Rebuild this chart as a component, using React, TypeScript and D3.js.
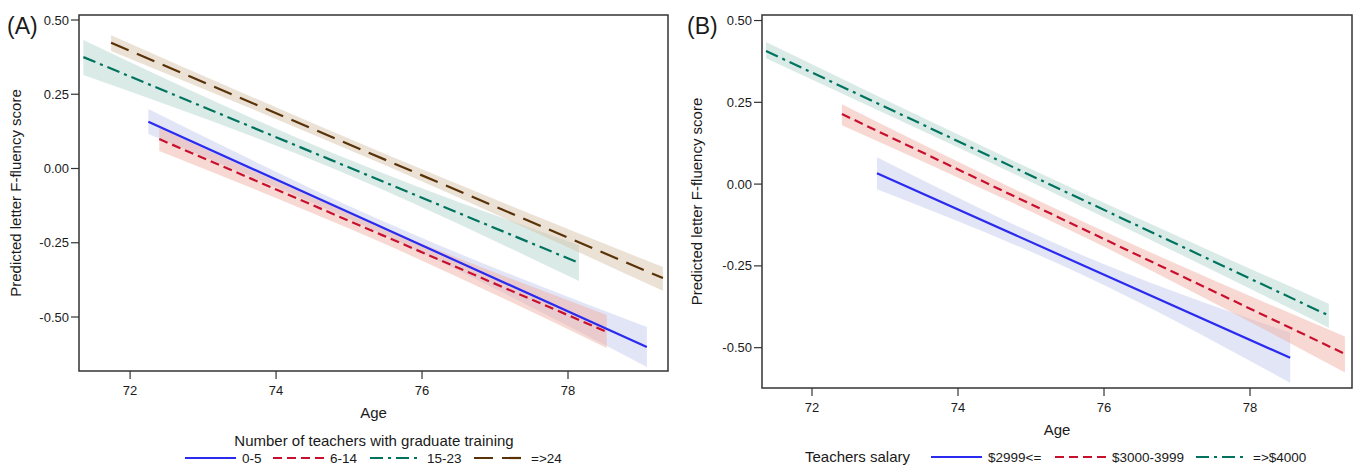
import React from "react";
import * as d3 from "d3";

// ---------- Data ----------
const xTicks = [72, 74, 76, 78];
const yTicks = [0.5, 0.25, 0, -0.25, -0.5];
const yTickLabels = ["0.50", "0.25", "0.00", "-0.25", "-0.50"];

// Panel A: Number of teachers with graduate training
const catsA = ["0-5", "6-14", "15-23", "=>24"];
const ageA_0_5 = [72.25, 75.36, 79.08];
const fitA_0_5 = [0.157, -0.188, -0.601];
const lowA_0_5 = [0.116, -0.21, -0.668];
const upA_0_5 = [0.2, -0.166, -0.534];

const ageA_6_14 = [72.4, 75.47, 78.53];
const fitA_6_14 = [0.099, -0.226, -0.55];
const lowA_6_14 = [0.059, -0.252, -0.604];
const upA_6_14 = [0.136, -0.2, -0.493];

const ageA_15_23 = [71.36, 74.75, 78.15];
const fitA_15_23 = [0.375, 0.029, -0.318];
const lowA_15_23 = [0.315, 0.003, -0.379];
const upA_15_23 = [0.433, 0.055, -0.258];

const ageA_24 = [71.74, 75.52, 79.3];
const fitA_24 = [0.423, 0.027, -0.369];
const lowA_24 = [0.396, 0.008, -0.412];
const upA_24 = [0.449, 0.046, -0.332];

// Panel B: Teachers salary
const catsB = ["$2999<=", "$3000-3999", "=>$4000"];
const ageB_low = [72.89, 75.71, 78.55];
const fitB_low = [0.033, -0.248, -0.531];
const lowB_low = [-0.016, -0.278, -0.607];
const upB_low = [0.082, -0.218, -0.454];

const ageB_mid = [72.41, 75.85, 79.3];
const fitB_mid = [0.214, -0.152, -0.519];
const lowB_mid = [0.18, -0.175, -0.576];
const upB_mid = [0.244, -0.129, -0.466];

const ageB_high = [71.37, 75.22, 79.08];
const fitB_high = [0.407, 0.003, -0.402];
const lowB_high = [0.385, -0.017, -0.439];
const upB_high = [0.434, 0.023, -0.366];

// ---------- Styles ----------
const styles = {
  blue: { line: "#2b2bf0", fill: "#c4cbee", dash: "" },
  red: { line: "#c8102e", fill: "#f2b2a6", dash: "9,5" },
  green: { line: "#00735f", fill: "#b5d8cf", dash: "13,5,3,5" },
  brown: { line: "#5a3208", fill: "#d8c4ac", dash: "19,9" },
};

type Series = { name: string; age: number[]; fit: number[]; low: number[]; up: number[]; style: typeof styles.blue };

const seriesA: Series[] = [
  { name: catsA[0], age: ageA_0_5, fit: fitA_0_5, low: lowA_0_5, up: upA_0_5, style: styles.blue },
  { name: catsA[1], age: ageA_6_14, fit: fitA_6_14, low: lowA_6_14, up: upA_6_14, style: styles.red },
  { name: catsA[2], age: ageA_15_23, fit: fitA_15_23, low: lowA_15_23, up: upA_15_23, style: styles.green },
  { name: catsA[3], age: ageA_24, fit: fitA_24, low: lowA_24, up: upA_24, style: styles.brown },
];
const seriesB: Series[] = [
  { name: catsB[0], age: ageB_low, fit: fitB_low, low: lowB_low, up: upB_low, style: styles.blue },
  { name: catsB[1], age: ageB_mid, fit: fitB_mid, low: lowB_mid, up: upB_mid, style: styles.red },
  { name: catsB[2], age: ageB_high, fit: fitB_high, low: lowB_high, up: upB_high, style: styles.green },
];

const FONT = "'Liberation Sans', Arial, sans-serif";
const TXT = "#1a1a1a";

type PanelProps = {
  series: Series[];
  left: number;
  right: number;
  top: number;
  bottom: number;
  xDomain: [number, number];
  yDomain: [number, number];
  label: string;
  labelX: number;
  yTitleX: number;
};

function Panel({ series, left, right, top, bottom, xDomain, yDomain, label, labelX, yTitleX }: PanelProps) {
  const x = d3.scaleLinear().domain(xDomain).range([left, right]);
  const y = d3.scaleLinear().domain(yDomain).range([bottom, top]);
  return (
    <g>
      <defs>
        <clipPath id={`clip-${label}`}>
          <rect x={left} y={top} width={right - left} height={bottom - top} />
        </clipPath>
      </defs>
      <g clipPath={`url(#clip-${label})`}>
        {series.map((s) => {
          const idx = s.age.map((_, i) => i);
          const a = d3
            .area<number>()
            .x((i) => x(s.age[i]))
            .y0((i) => y(s.low[i]))
            .y1((i) => y(s.up[i]))
            .curve(d3.curveMonotoneX);
          return <path key={"b" + s.name} d={a(idx) || ""} fill={s.style.fill} fillOpacity={0.5} stroke="none" />;
        })}
        {series.map((s) => {
          const idx = s.age.map((_, i) => i);
          const l = d3
            .line<number>()
            .x((i) => x(s.age[i]))
            .y((i) => y(s.fit[i]));
          return (
            <path
              key={"l" + s.name}
              d={l(idx) || ""}
              fill="none"
              stroke={s.style.line}
              strokeWidth={2.2}
              strokeDasharray={s.style.dash || undefined}
            />
          );
        })}
      </g>
      <rect x={left} y={top} width={right - left} height={bottom - top} fill="none" stroke="#333" strokeWidth={1.5} />
      {yTicks.map((t, i) => (
        <g key={"y" + t}>
          <line x1={left - 8} x2={left} y1={y(t)} y2={y(t)} stroke="#333" strokeWidth={1.2} />
          <text x={left - 10} y={y(t)} dy="0.35em" textAnchor="end" fontFamily={FONT} fontSize={13} fill={TXT}>
            {yTickLabels[i]}
          </text>
        </g>
      ))}
      {xTicks.map((t) => (
        <g key={"x" + t}>
          <line x1={x(t)} x2={x(t)} y1={bottom} y2={bottom + 8} stroke="#333" strokeWidth={1.2} />
          <text x={x(t)} y={bottom + 24} textAnchor="middle" fontFamily={FONT} fontSize={13} fill={TXT}>
            {t}
          </text>
        </g>
      ))}
      <text x={(left + right) / 2} y={bottom + 47} textAnchor="middle" fontFamily={FONT} fontSize={15} fill={TXT}>
        Age
      </text>
      <text
        transform={`translate(${yTitleX},${(top + bottom) / 2}) rotate(-90)`}
        textAnchor="middle"
        fontFamily={FONT}
        fontSize={15}
        fill={TXT}
      >
        Predicted letter F-fluency score
      </text>
      <text x={labelX} y={34} fontFamily={FONT} fontSize={23} fill={TXT}>
        ({label})
      </text>
    </g>
  );
}

function LegendItem({ x0, y0, s, name }: { x0: number; y0: number; s: typeof styles.blue; name: string }) {
  return (
    <g>
      <line x1={x0} x2={x0 + 51} y1={y0} y2={y0} stroke={s.line} strokeWidth={2.2} strokeDasharray={s.dash || undefined} />
      <text x={x0 + 57} y={y0} dy="0.35em" fontFamily={FONT} fontSize={13.5} fill={TXT}>
        {name}
      </text>
    </g>
  );
}

export default function App() {
  const legA = [185, 273, 370, 474];
  const legB = [931, 1055, 1196];
  return (
    <svg width={1353} height={466} style={{ position: "absolute", left: 0, top: 0, background: "#fff" }}>
      <rect x={0} y={0} width={1353} height={466} fill="#fff" />
      <Panel
        series={seriesA}
        left={79}
        right={668}
        top={15}
        bottom={371}
        xDomain={[71.3, 79.37]}
        yDomain={[-0.6818, 0.5168]}
        label="A"
        labelX={7}
        yTitleX={21}
      />
      <Panel
        series={seriesB}
        left={762}
        right={1352}
        top={15}
        bottom={388}
        xDomain={[71.315, 79.397]}
        yDomain={[-0.6233, 0.5169]}
        label="B"
        labelX={687}
        yTitleX={702}
      />
      <text x={374} y={446} textAnchor="middle" fontFamily={FONT} fontSize={15} fill={TXT}>
        Number of teachers with graduate training
      </text>
      {seriesA.map((s, i) => (
        <LegendItem key={s.name} x0={legA[i]} y0={458} s={s.style} name={s.name} />
      ))}
      <text x={805} y={457} dy="0.35em" fontFamily={FONT} fontSize={15} fill={TXT}>
        Teachers salary
      </text>
      {seriesB.map((s, i) => (
        <LegendItem key={s.name} x0={legB[i]} y0={457} s={s.style} name={s.name} />
      ))}
    </svg>
  );
}
